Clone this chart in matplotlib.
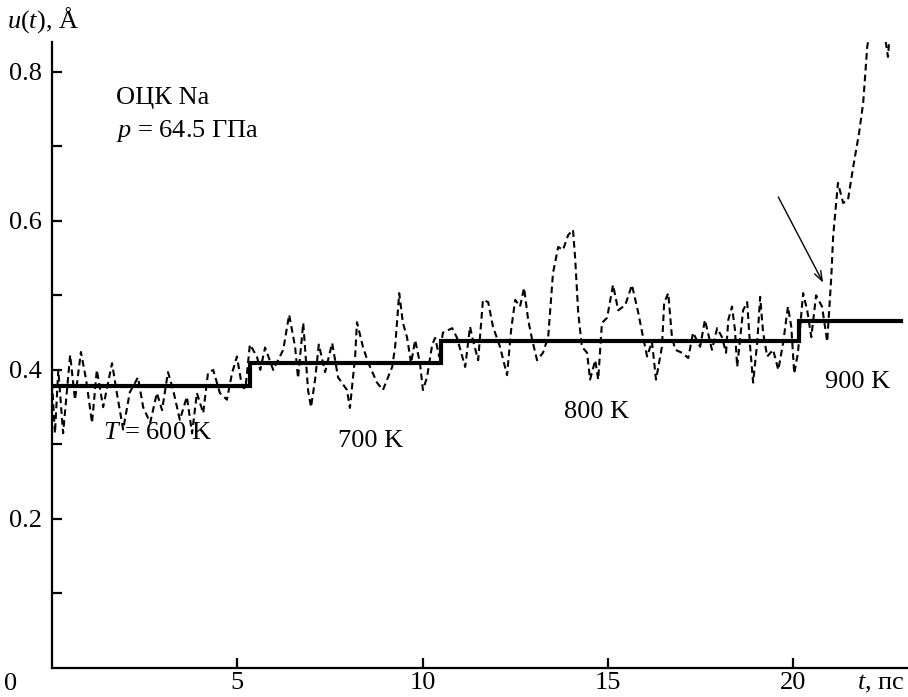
import matplotlib
matplotlib.use("Agg")
import matplotlib.pyplot as plt

plt.rcParams['font.family'] = ['Liberation Serif', 'DejaVu Serif']
plt.rcParams['mathtext.fontset'] = 'custom'
plt.rcParams['mathtext.rm'] = 'Liberation Serif'
plt.rcParams['mathtext.it'] = 'Liberation Serif:italic'

# Fluctuating displacement u(t) (dashed)
t_vals = [0.00, 0.08, 0.17, 0.30, 0.49, 0.62, 0.78, 0.92, 1.08, 1.21, 1.38, 1.62, 1.75, 1.92,
          2.10, 2.32, 2.46, 2.65, 2.83, 2.97, 3.13, 3.27, 3.45, 3.64, 3.78, 3.91, 4.08, 4.21,
          4.35, 4.53, 4.72, 4.86, 4.99, 5.13, 5.22, 5.34, 5.53, 5.62, 5.75, 5.97, 6.24, 6.40,
          6.56, 6.64, 6.78, 6.91, 6.99, 7.10, 7.20, 7.37, 7.56, 7.72, 7.96, 8.04, 8.18, 8.23,
          8.39, 8.53, 8.77, 8.93, 9.18, 9.26, 9.37, 9.47, 9.58, 9.69, 9.80, 9.93, 10.01, 10.12,
          10.26, 10.34, 10.45, 10.55, 10.80, 10.93, 11.15, 11.28, 11.36, 11.50, 11.63, 11.77,
          11.90, 12.09, 12.28, 12.39, 12.50, 12.63, 12.74, 12.85, 12.96, 13.09, 13.25, 13.39,
          13.52, 13.66, 13.79, 13.93, 14.06, 14.12, 14.20, 14.30, 14.44, 14.52, 14.66, 14.74,
          14.84, 14.98, 15.14, 15.28, 15.47, 15.65, 15.82, 15.95, 16.06, 16.19, 16.30, 16.46,
          16.52, 16.63, 16.73, 16.82, 17.00, 17.17, 17.30, 17.49, 17.62, 17.81, 17.95, 18.08,
          18.19, 18.25, 18.35, 18.43, 18.49, 18.65, 18.76, 18.84, 18.92, 19.03, 19.11, 19.19,
          19.30, 19.46, 19.60, 19.73, 19.86, 19.95, 20.03, 20.13, 20.27, 20.38, 20.49, 20.62,
          20.78, 20.92, 21.03, 21.08, 21.21, 21.35, 21.48, 21.62, 21.78, 21.89, 22.00, 22.25,
          22.50, 22.56, 22.62]
u_vals = [0.383, 0.315, 0.400, 0.315, 0.420, 0.360, 0.424, 0.387, 0.329, 0.400, 0.350, 0.409,
          0.369, 0.320, 0.370, 0.390, 0.350, 0.329, 0.369, 0.346, 0.397, 0.373, 0.333, 0.364,
          0.315, 0.369, 0.342, 0.396, 0.400, 0.369, 0.360, 0.396, 0.418, 0.377, 0.375, 0.434,
          0.418, 0.400, 0.430, 0.400, 0.427, 0.474, 0.431, 0.389, 0.463, 0.373, 0.350, 0.387,
          0.434, 0.397, 0.436, 0.390, 0.373, 0.349, 0.418, 0.464, 0.431, 0.410, 0.383, 0.373,
          0.404, 0.431, 0.503, 0.463, 0.444, 0.409, 0.440, 0.409, 0.373, 0.390, 0.434, 0.443,
          0.418, 0.450, 0.456, 0.443, 0.404, 0.458, 0.440, 0.413, 0.494, 0.491, 0.458, 0.431,
          0.393, 0.454, 0.494, 0.485, 0.510, 0.467, 0.440, 0.413, 0.423, 0.444, 0.530, 0.565,
          0.561, 0.581, 0.588, 0.548, 0.477, 0.431, 0.423, 0.387, 0.413, 0.387, 0.463, 0.470,
          0.514, 0.480, 0.487, 0.514, 0.477, 0.444, 0.418, 0.438, 0.387, 0.431, 0.490, 0.503,
          0.444, 0.427, 0.423, 0.416, 0.450, 0.431, 0.467, 0.427, 0.456, 0.444, 0.423, 0.467,
          0.485, 0.454, 0.404, 0.480, 0.491, 0.431, 0.383, 0.436, 0.498, 0.450, 0.418, 0.427,
          0.400, 0.436, 0.485, 0.458, 0.395, 0.423, 0.503, 0.480, 0.444, 0.500, 0.485, 0.438,
          0.525, 0.579, 0.651, 0.624, 0.628, 0.672, 0.718, 0.758, 0.834, 0.900, 0.840, 0.820,
          0.860]

# Time-averaged u for each temperature (solid steps)
step_t = [0.0, 5.35, 10.49, 20.16, 22.9]
step_u = [0.379, 0.409, 0.439, 0.465, 0.465]

temp_labels = ["$T$ = 600 K", "700 K", "800 K", "900 K"]
x_ticks = [5, 10, 15, 20]
y_major = [0.2, 0.4, 0.6, 0.8]
y_minor = [0.1, 0.3, 0.5, 0.7]

fig = plt.figure(figsize=(9.08, 6.97), dpi=100)
ax = fig.add_axes([52/908, 1 - 668/697, 856/908, 626/697])
ax.set_xlim(0, 23.1)
ax.set_ylim(0, 0.84)

ax.plot(t_vals, u_vals, color='black', lw=1.5, linestyle=(0, (3.2, 2.0)))
ax.plot(step_t, step_u, color='black', lw=3.0, drawstyle='steps-post', solid_joinstyle='miter')

for s in ['top', 'right']:
    ax.spines[s].set_visible(False)
for s in ['left', 'bottom']:
    ax.spines[s].set_linewidth(1.6)

fs = 19
ax.set_xticks(x_ticks)
ax.set_xticklabels([str(v) for v in x_ticks])
ax.set_yticks(y_major)
ax.set_yticklabels([f"{v:.1f}" for v in y_major])
ax.set_yticks(y_minor, minor=True)
ax.tick_params(axis='x', direction='in', length=7, width=1.6, labelsize=fs, pad=3)
ax.tick_params(axis='y', which='both', direction='in', length=7, width=1.6, labelsize=fs, pad=7)

fig.text(11/908, 1 - 684/697, "0", fontsize=fs, ha='center', va='center')
fig.text(7/908, 1 - 20/697, "$u$($t$), Å", fontsize=fs, ha='left', va='center')
fig.text(857/908, 1 - 684/697, "$t$, пс", fontsize=fs, ha='left', va='center')

ax.text(1.73, 0.765, "ОЦК Na", fontsize=fs, ha='left', va='center')
ax.text(1.73, 0.72, "$p$ = 64.5 ГПа", fontsize=fs, ha='left', va='center')

ax.text(1.38, 0.316, temp_labels[0], fontsize=fs, ha='left', va='center')
ax.text(8.6, 0.305, temp_labels[1], fontsize=fs, ha='center', va='center')
ax.text(14.7, 0.344, temp_labels[2], fontsize=fs, ha='center', va='center')
ax.text(21.73, 0.384, temp_labels[3], fontsize=fs, ha='center', va='center')

ax.annotate('', xy=(20.81, 0.517), xytext=(19.6, 0.632),
            arrowprops=dict(arrowstyle='->,head_length=0.7,head_width=0.25', lw=1.0, color='black',
                            shrinkA=0, shrinkB=0))

fig.savefig("out.png", dpi=100)
